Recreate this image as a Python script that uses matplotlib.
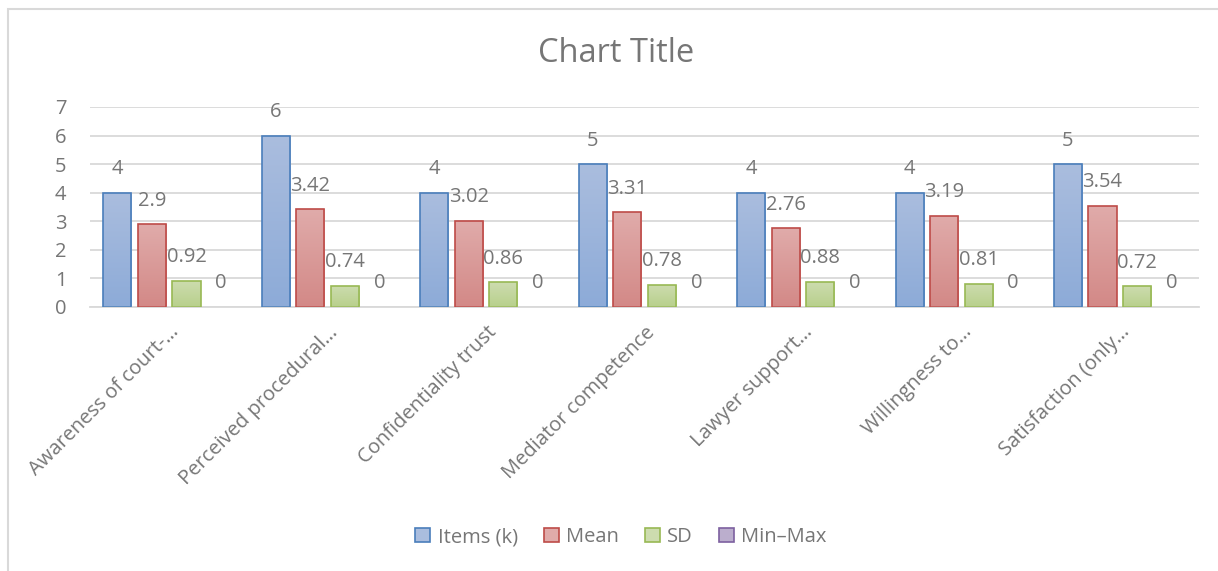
import numpy as np
import matplotlib
matplotlib.use("Agg")
import matplotlib.pyplot as plt
from matplotlib.patches import Patch, Rectangle
from matplotlib.colors import LinearSegmentedColormap

plt.rcParams['font.family'] = ['Open Sans', 'DejaVu Sans']

categories = ["Awareness of court-\u2026", "Perceived procedural\u2026", "Confidentiality trust",
              "Mediator competence", "Lawyer support\u2026", "Willingness to\u2026",
              "Satisfaction (only\u2026"]
series_names = ["Items (k)", "Mean", "SD", "Min\u2013Max"]
items_k = [4, 6, 4, 5, 4, 4, 5]
mean_vals = [2.9, 3.42, 3.02, 3.31, 2.76, 3.19, 3.54]
sd_vals = [0.92, 0.74, 0.86, 0.78, 0.88, 0.81, 0.72]
minmax_vals = [0, 0, 0, 0, 0, 0, 0]
y_ticks = [0, 1, 2, 3, 4, 5, 6, 7]

series = [items_k, mean_vals, sd_vals, minmax_vals]
# (top color, bottom color, edge color)
styles = [("#aabdde", "#8dabd8", "#4a7ebb"),
          ("#e0abaa", "#d38987", "#be4b48"),
          ("#cddcaf", "#b8d08c", "#98b954"),
          ("#bbaecd", "#9d8abb", "#7d60a0")]

W, H = 1218, 571
fig = plt.figure(figsize=(W / 100, H / 100), dpi=100)
ax = fig.add_axes([90 / W, (H - 307) / H, (1199 - 90) / W, 200 / H])

grey = "#767676"
x = np.arange(len(categories))
bw = 0.177
step = 0.218
offsets = (np.arange(4) - 1.5) * step

for s, vals in enumerate(series):
    top, bot, edge = styles[s]
    cmap = LinearSegmentedColormap.from_list("g%d" % s, [bot, top])
    bars = ax.bar(x + offsets[s], vals, width=bw, facecolor="none",
                  edgecolor=edge, linewidth=1.2, zorder=3)
    for b, v in zip(bars, vals):
        if v > 0:
            x0, y0 = b.get_x(), b.get_y()
            grad = np.linspace(0, 1, 64).reshape(-1, 1)
            im = ax.imshow(grad, cmap=cmap, origin="lower", aspect="auto",
                           extent=[x0, x0 + b.get_width(), y0, y0 + b.get_height()],
                           zorder=2, interpolation="bilinear")
            im.set_clip_path(b)
        else:
            b.set_visible(False)
        lab = ("%g" % v)
        ax.annotate(lab, (b.get_x() + b.get_width() / 2, v), xytext=(0, 17),
                    textcoords="offset points", ha="center", va="center",
                    fontsize=14.5, color=grey, zorder=4)

ax.set_xlim(-0.5, len(categories) - 0.5)
ax.set_ylim(0, 7)
ax.set_yticks(y_ticks)
ax.set_yticklabels([str(t) for t in y_ticks], fontsize=14.5, color=grey)
ax.yaxis.grid(True, color="#d9d9d9", linewidth=1.3, zorder=0)
ax.set_axisbelow(True)
ax.tick_params(axis="y", length=0, pad=17)
ax.tick_params(axis="x", length=0, pad=11)
ax.set_xticks(x)
ax.set_xticklabels(categories, rotation=45, ha="right", rotation_mode="anchor",
                   fontsize=14.5, color=grey)
for sp in ["left", "right", "top"]:
    ax.spines[sp].set_visible(False)
ax.spines["bottom"].set_color("#d9d9d9")
ax.spines["bottom"].set_linewidth(1.3)

fig.text(616 / W, 1 - 53 / H, "Chart Title", ha="center", va="center",
         fontsize=23.5, color=grey)

handles = [Patch(facecolor=st[0], edgecolor=st[2], linewidth=1.2) for st in styles]
fig.legend(handles, series_names, loc="center", bbox_to_anchor=(621 / W, 1 - 537 / H),
           ncol=4, frameon=False, fontsize=14.5, handlelength=0.75, handleheight=0.75,
           handletextpad=0.35, columnspacing=1.3, labelcolor=grey)

# chart area border (left and top visible)
fig.add_artist(Rectangle((7.5 / W, -0.1), 1.2, 1 - 8.5 / H + 0.1, transform=fig.transFigure,
                         facecolor="none", edgecolor="#d9d9d9", linewidth=1.5))

fig.savefig("out.png", dpi=100)
